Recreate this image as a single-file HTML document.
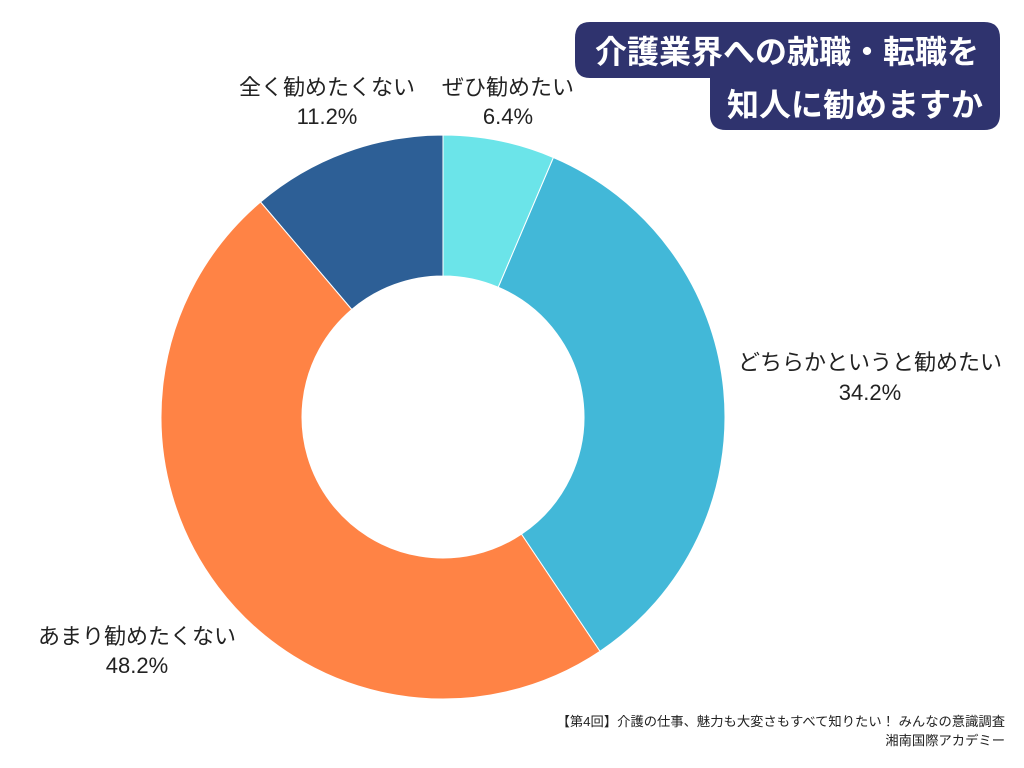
<!DOCTYPE html>
<html><head><meta charset="utf-8">
<style>
body{margin:0;width:1024px;height:768px;background:#fff;overflow:hidden;font-family:"Liberation Sans","Noto Sans CJK JP",sans-serif;}
svg{position:absolute;left:0;top:0}
text{font-family:"Liberation Sans","Noto Sans CJK JP",sans-serif;fill:#222}
</style></head><body>
<svg id="s" width="1024" height="768" viewBox="0 0 1024 768">
<path d="M590 22 H984 Q1000 22 1000 38 V114 Q1000 130 984 130 H726 Q710 130 710 114 V78 H590 Q575 78 575 62 V38 Q575 22 590 22 Z" fill="#2f336e"/>
<text x="787" y="63" text-anchor="middle" font-size="32" font-weight="bold" style="fill:#fff">介護業界への就職・転職を</text>
<text x="855" y="116" text-anchor="middle" font-size="32" font-weight="bold" style="fill:#fff">知人に勧めますか</text>
<g font-size="22" text-anchor="middle">
<text x="327" y="95">全く勧めたくない</text><text x="327" y="124">11.2%</text>
<text x="508" y="95">ぜひ勧めたい</text><text x="508" y="124">6.4%</text>
<text x="870" y="370">どちらかというと勧めたい</text><text x="870" y="400">34.2%</text>
<text x="137" y="644">あまり勧めたくない</text><text x="137" y="673">48.2%</text>
</g>
<g font-size="13.3" text-anchor="end">
<text x="1005" y="726">【第4回】介護の仕事、魅力も大変さもすべて知りたい！ みんなの意識調査</text>
<text x="1005" y="745">湘南国際アカデミー</text>
</g>
</svg>
<script>
var s=document.getElementById('s'),cx=443,cy=417,R=282,r=141;
var d=[[6.4,'#6be4e9'],[34.2,'#42b8d8'],[48.2,'#ff8345'],[11.2,'#2d5f96']],a=0;
function p(t,rad){return [cx+rad*Math.sin(t),cy-rad*Math.cos(t)];}
d.forEach(function(x){var b=a+x[0]/100*2*Math.PI,l=(b-a)>Math.PI?1:0;
var A=p(a,R),B=p(b,R),C=p(b,r),D=p(a,r);
var e=document.createElementNS('http://www.w3.org/2000/svg','path');
e.setAttribute('d','M'+A+' A'+R+' '+R+' 0 '+l+' 1 '+B+' L'+C+' A'+r+' '+r+' 0 '+l+' 0 '+D+'Z');
e.setAttribute('fill',x[1]);e.setAttribute('stroke','#fff');e.setAttribute('stroke-width','1');
s.insertBefore(e,s.firstChild);a=b;});
</script>
</body></html>
